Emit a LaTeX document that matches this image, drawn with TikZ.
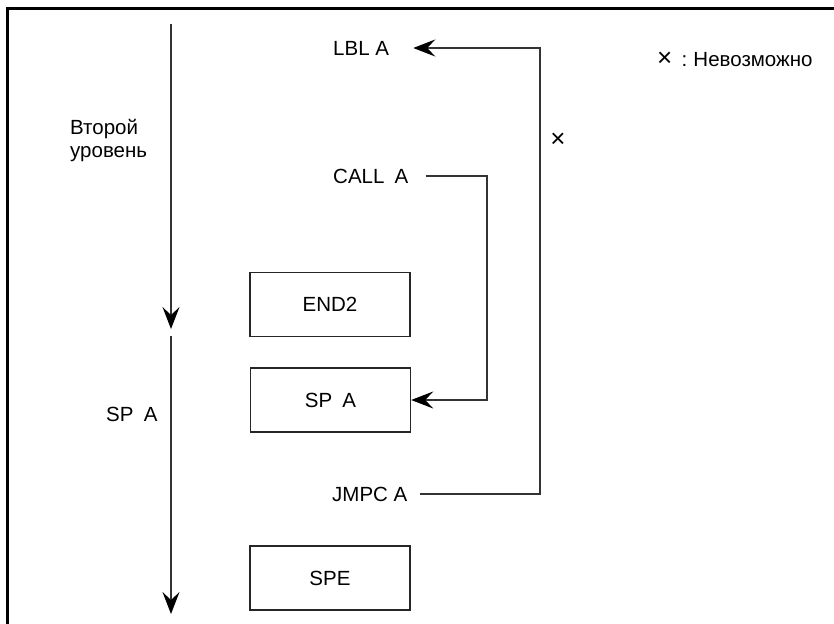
\documentclass[tikz,border=0pt]{standalone}
\usepackage{fontspec}
\setmainfont{Liberation Sans}
\usetikzlibrary{arrows.meta}
\tikzset{
  lbl/.style={inner sep=0pt, anchor=west, font=\fontsize{20.5}{24}\selectfont},
  boxnode/.style={draw=black!85, line width=1.4pt, minimum width=160pt, minimum height=64pt, inner sep=0pt, font=\fontsize{20.5}{24}\selectfont},
  conn/.style={draw=black!80, line width=1.3pt},
  arr/.style={conn, -{Stealth[length=22pt,width=17pt,inset=8pt,color=black,fill=black]}},
  frameline/.style={draw=black, line width=3pt}
}
\begin{document}
\begin{tikzpicture}[x=1pt,y=-1pt]
\useasboundingbox (0,0) rectangle (834,623);
% frame (top and left only)
\coordinate (fTL) at (7,9);
\coordinate (fTR) at (836,9);
\coordinate (fBL) at (7,625);
\draw[frameline] (fTR) -- (fTL) -- (fBL);

% left flow arrows
\coordinate (a1s) at (171,24);
\coordinate (a1e) at (171,329);
\coordinate (a2s) at (171,336);
\coordinate (a2e) at (171,614);
\draw[arr] (a1s) -- (a1e);
\draw[arr] (a2s) -- (a2e);

% left labels
\node[lbl, align=left, anchor=north west, font=\fontsize{20.5}{23.5}\selectfont] (lvl) at (70,119) {Второй\\уровень};
\node[lbl] (spalbl) at (106,414) {SP\hspace{0.5em}A};

% program labels
\node[lbl] (lbla) at (333,48) {LBL A};
\node[lbl] (calla) at (333,176) {CALL\hspace{0.5em}A};
\node[lbl] (jmpc) at (332,494) {JMPC A};

% boxes
\node[boxnode] (end2) at (330,304.5) {END2};
\node[boxnode] (spabox) at (330.5,400) {SP\hspace{0.5em}A};
\node[boxnode] (spe) at (330,578) {SPE};

% connectors
\coordinate (c1) at (487,400);
\draw[arr] ([xshift=17pt]calla.east) -| (c1) -- (spabox.east);
\coordinate (j1) at (540,48);
\draw[arr] ([xshift=12pt]jmpc.east) -| (j1) -- ([xshift=24pt]lbla.east);

% impossibility mark and legend
\node[lbl, anchor=center, font=\fontsize{26}{30}\selectfont] (xmark) at (558,140) {×};
\node[lbl] (legend) at (657,59) {{\fontsize{26}{30}\selectfont ×}\hspace{0.45em}:\hspace{0.3em}Невозможно};
\end{tikzpicture}
\end{document}
